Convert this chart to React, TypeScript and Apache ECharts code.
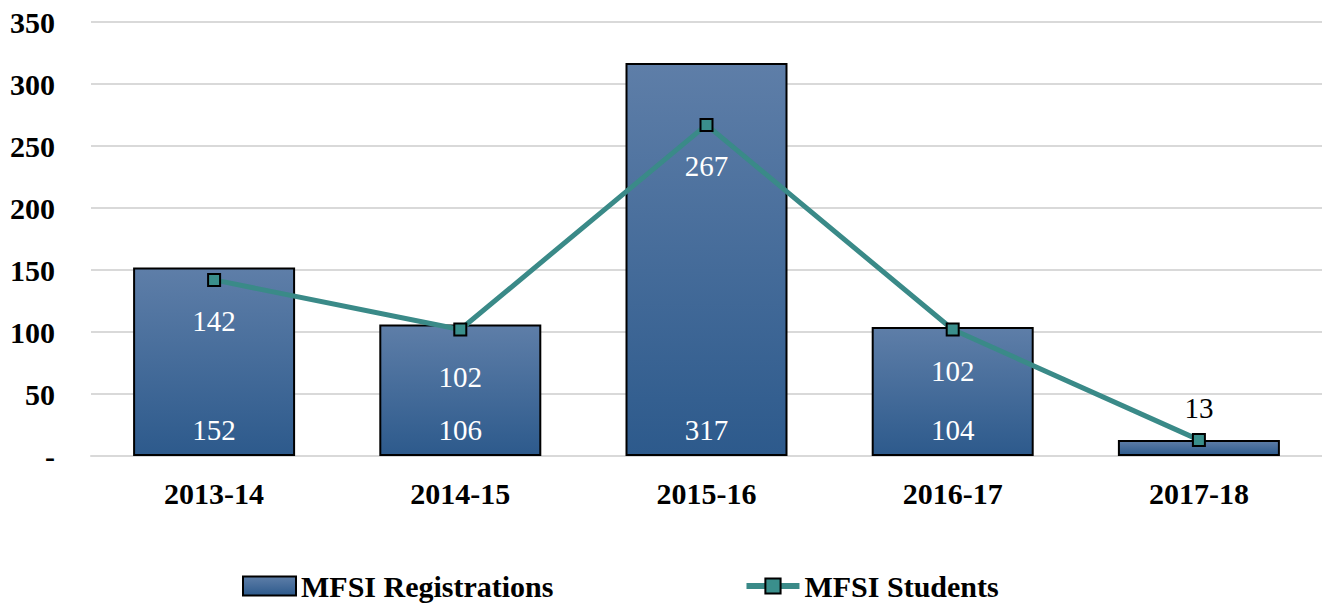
import React, { useEffect, useRef } from "react";
import * as echarts from "echarts";

const categories = ["2013-14", "2014-15", "2015-16", "2016-17", "2017-18"];
const registrations = [152, 106, 317, 104, 13];
const students = [142, 102, 267, 102, 13];
const yTicks = [0, 50, 100, 150, 200, 250, 300, 350];

const FONT = "'Liberation Serif', 'Times New Roman', serif";

export default function App() {
  const ref = useRef<HTMLDivElement>(null);
  useEffect(() => {
    if (!ref.current) return;
    const chart = echarts.init(ref.current, undefined, { renderer: "svg" });
    const barGrad = new echarts.graphic.LinearGradient(0, 0, 0, 1, [
      { offset: 0, color: "#5e7ea8" },
      { offset: 1, color: "#2d5a8c" },
    ]);
    chart.setOption({
      animation: false,
      textStyle: { fontFamily: FONT },
      grid: { left: 91, right: 0, top: 22, bottom: 149, containLabel: false },
      legend: {
        left: 237,
        top: 566,
        itemWidth: 53,
        itemHeight: 19,
        itemGap: 190,
        textStyle: { fontFamily: FONT, fontSize: 30, fontWeight: "bold", color: "#000", lineHeight: 30 },
        data: [
          {
            name: "MFSI Registrations",
            icon: "rect",
            itemStyle: { color: barGrad, borderColor: "#000", borderWidth: 2 },
          },
          { name: "MFSI Students", lineStyle: { width: 6, color: "#3a8a88" } },
        ],
      },
      xAxis: {
        type: "category",
        data: categories,
        axisLine: { show: true, lineStyle: { color: "#d9d9d9", width: 2 } },
        axisTick: { show: false },
        axisLabel: { fontFamily: FONT, fontSize: 30, fontWeight: "bold", color: "#000", margin: 22 },
      },
      yAxis: {
        type: "value",
        min: yTicks[0],
        max: yTicks[yTicks.length - 1],
        interval: 50,
        axisLine: { show: false },
        axisTick: { show: false },
        splitLine: { lineStyle: { color: "#d9d9d9", width: 2 } },
        axisLabel: {
          fontFamily: FONT,
          fontSize: 30,
          fontWeight: "bold",
          color: "#000",
          margin: 36,
          formatter: (v: number) => (v === 0 ? "-" : String(v)),
        },
      },
      series: [
        {
          name: "MFSI Registrations",
          type: "bar",
          barWidth: 162,
          data: registrations.map((v, i) => ({
            value: v,
            label: { show: i < registrations.length - 1 },
          })),
          itemStyle: { color: barGrad, borderColor: "#000", borderWidth: 2 },
          label: {
            show: true,
            position: "insideBottom",
            distance: 12,
            fontFamily: FONT,
            fontSize: 29,
            color: "#fff",
          },
          z: 1,
        },
        {
          name: "MFSI Students",
          type: "line",
          data: students.map((v, i) => ({
            value: v,
            label:
              i === students.length - 1
                ? { position: "top", distance: 10, color: "#000" }
                : { position: "bottom", distance: i === 1 ? 26 : 20, color: "#fff" },
          })),
          symbol: "rect",
          symbolSize: 12,
          lineStyle: { color: "#3a8a88", width: 5 },
          itemStyle: { color: "#3a8f8c", borderColor: "#000", borderWidth: 2 },
          label: {
            show: true,
            fontFamily: FONT,
            fontSize: 29,
          },
          z: 3,
        },
      ],
    });
    return () => chart.dispose();
  }, []);
  return (
    <div
      ref={ref}
      style={{ position: "fixed", left: 0, top: 0, width: 1322, height: 605, background: "#fff" }}
    />
  );
}
